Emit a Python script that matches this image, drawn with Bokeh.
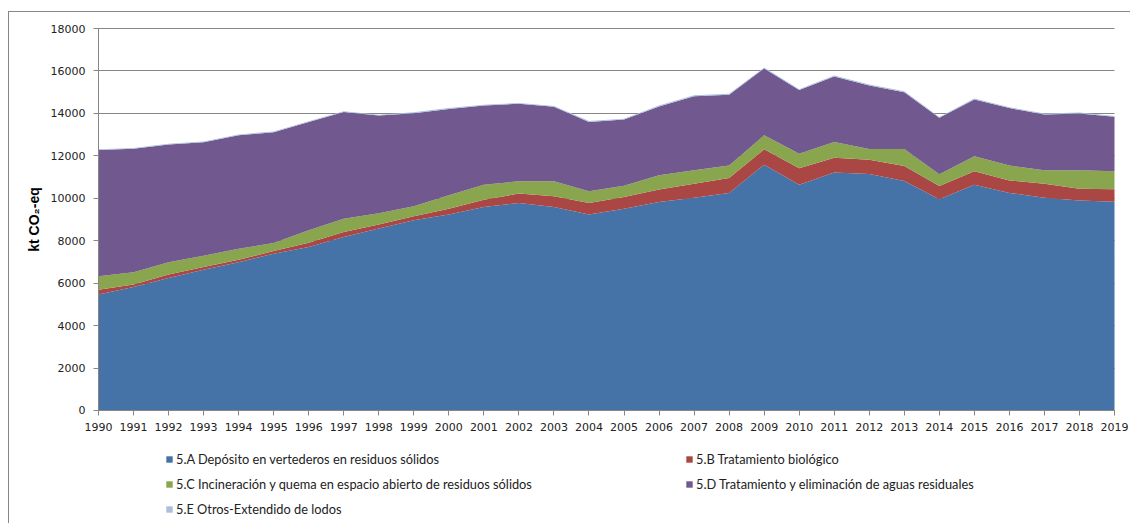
from bokeh.plotting import figure
from bokeh.models import ColumnDataSource, Range1d, FixedTicker, Legend, LegendItem
from bokeh.embed import file_html
from bokeh.resources import INLINE

years = list(range(1990, 2020))
year_labels = [str(y) for y in years]
y_ticks = [0, 2000, 4000, 6000, 8000, 10000, 12000, 14000, 16000, 18000]

series_names = [
    "5.A Depósito en vertederos en residuos sólidos",
    "5.B Tratamiento biológico",
    "5.C Incineración y quema en espacio abierto de residuos sólidos",
    "5.D Tratamiento y eliminación de aguas residuales",
    "5.E Otros-Extendido de lodos",
]

s5A = [5470, 5815, 6240, 6630, 6980, 7390, 7700, 8170, 8570, 8960,
       9230, 9590, 9780, 9590, 9230, 9510, 9820, 10030, 10250, 11580,
       10640, 11210, 11140, 10810, 9950, 10640, 10250, 10030, 9900, 9840]
s5B = [220, 125, 170, 130, 120, 120, 200, 240, 200, 190,
       280, 340, 440, 500, 550, 550, 590, 660, 700, 730,
       780, 700, 680, 710, 630, 630, 590, 660, 550, 580]
s5C = [630, 580, 580, 530, 520, 380, 590, 630, 530, 480,
       630, 710, 580, 710, 550, 530, 670, 630, 600, 660,
       680, 740, 500, 800, 550, 710, 700, 630, 870, 850]
s5D = [5950, 5810, 5540, 5350, 5350, 5220, 5100, 5020, 4600, 4380,
       4070, 3730, 3650, 3510, 3270, 3120, 3250, 3490, 3330, 3150,
       3000, 3090, 3000, 2680, 2660, 2680, 2710, 2630, 2680, 2570]
s5E = [40, 40, 40, 40, 40, 40, 40, 40, 40, 40,
       40, 40, 40, 40, 40, 40, 40, 40, 40, 40,
       40, 40, 40, 40, 40, 40, 40, 40, 40, 40]

colors = ["#4572A7", "#AA4643", "#89A54E", "#71588F", "#A9BFDD"]
keys = ["A", "B", "C", "D", "E"]

source = ColumnDataSource(dict(year=years, A=s5A, B=s5B, C=s5C, D=s5D, E=s5E))

# The frame covers the whole figure; both axes sit at fixed data locations
p = figure(width=1122, height=512, output_backend="svg", toolbar_location=None,
           x_range=Range1d(1987.4597, 2019.4852), y_range=Range1d(-5372, 18754),
           min_border=0, min_border_left=0, min_border_right=0,
           min_border_top=0, min_border_bottom=0)
p.styles = {"margin-left": "8px", "margin-top": "11px",
            "border-left": "1px solid #868686", "border-top": "1px solid #868686"}
p.outline_line_color = None
p.background_fill_color = "white"

renderers = p.varea_stack(stackers=keys, x="year", color=colors, source=source)

p.xgrid.grid_line_color = None
p.ygrid.grid_line_color = "#868686"
p.ygrid.grid_line_width = 1
p.ygrid.level = "underlay"
p.ygrid.ticker = FixedTicker(ticks=y_ticks)
try:
    p.ygrid.cross_bounds = (years[0], years[-1])
except Exception:
    p.ygrid.grid_line_color = None
    p.segment(x0=[years[0]] * len(y_ticks), y0=y_ticks, x1=[years[-1]] * len(y_ticks),
              y1=y_ticks, line_color="#868686", line_width=1, level="underlay")

p.xaxis.fixed_location = 0
p.xaxis.bounds = (years[0], years[-1])
p.xaxis.ticker = FixedTicker(ticks=years)
p.xaxis.major_label_overrides = {y: l for y, l in zip(years, year_labels)}
p.yaxis.fixed_location = years[0]
p.yaxis.ticker = FixedTicker(ticks=y_ticks)
p.yaxis.major_label_overrides = {t: str(t) for t in y_ticks}
p.yaxis.bounds = (0, 18000)

for ax in (p.xaxis[0], p.yaxis[0]):
    ax.axis_line_color = "#868686"
    ax.major_tick_line_color = "#868686"
    ax.major_tick_out = 5
    ax.major_tick_in = 0
    ax.minor_tick_line_color = None
    ax.major_label_text_font = "DejaVu Sans"
    ax.major_label_text_font_size = "11px"
    ax.major_label_text_color = "#222222"

p.xaxis.major_label_standoff = 8
p.yaxis.major_label_standoff = 8
p.yaxis.axis_label = "kt CO₂-eq"
p.yaxis.axis_label_text_font = "Liberation Sans"
p.yaxis.axis_label_text_font_style = "bold"
p.yaxis.axis_label_text_font_size = "14px"
p.yaxis.axis_label_text_color = "#000000"
p.yaxis.axis_label_standoff = 6

order = [0, 2, 4, 1, 3]  # legend fills column by column: A, C, E | B, D
items = [LegendItem(label=series_names[i], renderers=[renderers[i]]) for i in order]
legend = Legend(items=items, location=(156, 5), ncols=2,
                glyph_width=8, glyph_height=8, label_standoff=3,
                label_text_font="Lato", label_text_font_size="12.8px",
                label_text_color="#222222", label_height=20, spacing=5,
                label_width=504, padding=0, margin=0,
                border_line_color=None, background_fill_alpha=0)
p.add_layout(legend)

open("out.html", "w").write(file_html(p, INLINE))
